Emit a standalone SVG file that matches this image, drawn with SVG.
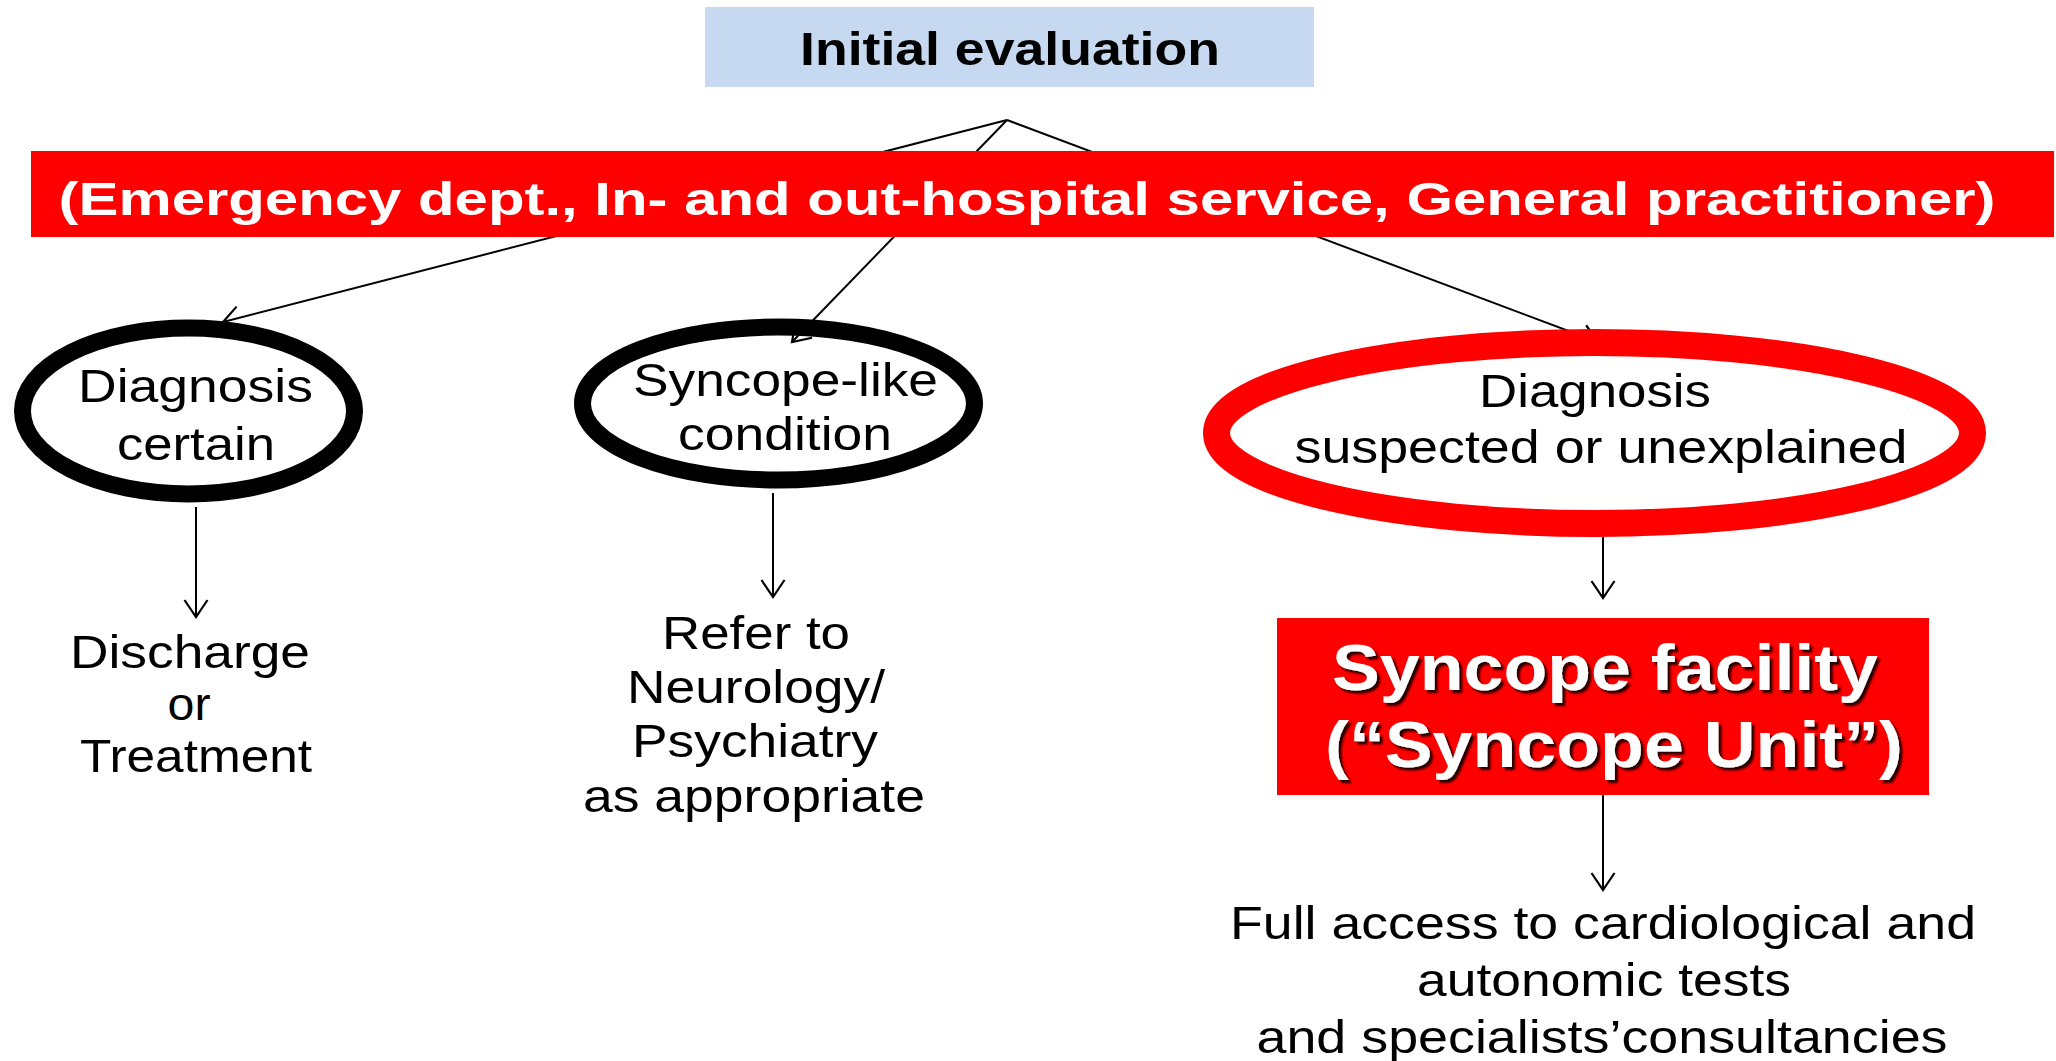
<svg xmlns="http://www.w3.org/2000/svg" width="2056" height="1061" viewBox="0 0 2056 1061">
  <defs>
    <marker id="arrow" markerUnits="userSpaceOnUse" markerWidth="40" markerHeight="40" viewBox="-20 -20 40 40" refX="0" refY="0" orient="auto">
      <path d="M -17 -11.5 L 0 0 L -17 11.5" fill="none" stroke="#000" stroke-width="2.2" stroke-linejoin="miter"/>
    </marker>
    <filter id="shadow" x="-10%" y="-20%" width="120%" height="150%">
      <feDropShadow dx="3" dy="3" stdDeviation="1.2" flood-color="#000" flood-opacity="0.85"/>
    </filter>
  </defs>
  <style>
    text { font-family: "Liberation Sans", Arial, sans-serif; text-anchor: middle; }
    .t { font-size: 46px; fill: #000; }
    .b { font-weight: bold; }
    .w { fill: #fff; font-weight: bold; }
    .conn { stroke: #000; stroke-width: 2; fill: none; marker-end: url(#arrow); }
    .ring { fill: none; stroke: #000; stroke-width: 17; }
    .redring { fill: none; stroke: #ff0000; stroke-width: 27; }
    .redbox { fill: #ff0000; }
  </style>
  <rect width="2056" height="1061" fill="#fff"/>

  <g id="connectors">
    <line class="conn" x1="1007" y1="120" x2="223" y2="322"/>
    <line class="conn" x1="1007" y1="120" x2="792" y2="342"/>
    <line class="conn" x1="1007" y1="120" x2="1598" y2="342"/>
    <line class="conn" x1="196" y1="507" x2="196" y2="617"/>
    <line class="conn" x1="773" y1="493" x2="773" y2="597"/>
    <line class="conn" x1="1603" y1="537" x2="1603" y2="598"/>
    <line class="conn" x1="1603" y1="795" x2="1603" y2="890"/>
  </g>

  <g id="initial-evaluation">
    <rect x="705" y="7" width="609" height="80" fill="#c6d9f0"/>
    <text class="t b" x="1010" y="65" textLength="420" lengthAdjust="spacingAndGlyphs">Initial evaluation</text>
  </g>

  <g id="settings-banner">
    <rect class="redbox" x="31" y="151" width="2023" height="86"/>
    <text class="t w" x="1027" y="215" textLength="1937" lengthAdjust="spacingAndGlyphs">(Emergency dept., In- and out-hospital service, General practitioner)</text>
  </g>

  <g id="diagnosis-certain">
    <ellipse class="ring" cx="188.5" cy="411" rx="166" ry="83"/>
    <text class="t" x="195.5" y="402" textLength="235" lengthAdjust="spacingAndGlyphs">Diagnosis</text>
    <text class="t" x="196" y="460" textLength="158" lengthAdjust="spacingAndGlyphs">certain</text>
  </g>

  <g id="syncope-like">
    <ellipse class="ring" cx="778.5" cy="403.5" rx="196" ry="76.5" stroke-width="16"/>
    <text class="t" x="785.5" y="396" textLength="305" lengthAdjust="spacingAndGlyphs">Syncope-like</text>
    <text class="t" x="785" y="450" textLength="214" lengthAdjust="spacingAndGlyphs">condition</text>
  </g>

  <g id="diagnosis-suspected">
    <ellipse class="redring" cx="1594.5" cy="433" rx="378" ry="90.5"/>
    <text class="t" x="1595" y="407" textLength="232" lengthAdjust="spacingAndGlyphs">Diagnosis</text>
    <text class="t" x="1601" y="463" textLength="613" lengthAdjust="spacingAndGlyphs">suspected or unexplained</text>
  </g>

  <g id="discharge">
    <text class="t" x="190" y="668" textLength="240" lengthAdjust="spacingAndGlyphs">Discharge</text>
    <text class="t" x="189" y="720" textLength="43" lengthAdjust="spacingAndGlyphs">or</text>
    <text class="t" x="196" y="772" textLength="232" lengthAdjust="spacingAndGlyphs">Treatment</text>
  </g>

  <g id="refer">
    <text class="t" x="756" y="649" textLength="188" lengthAdjust="spacingAndGlyphs">Refer to</text>
    <text class="t" x="756" y="703" textLength="258" lengthAdjust="spacingAndGlyphs">Neurology/</text>
    <text class="t" x="755" y="757" textLength="246" lengthAdjust="spacingAndGlyphs">Psychiatry</text>
    <text class="t" x="754" y="812" textLength="342" lengthAdjust="spacingAndGlyphs">as appropriate</text>
  </g>

  <g id="syncope-unit">
    <rect class="redbox" x="1277" y="618" width="652" height="177"/>
    <g filter="url(#shadow)">
      <text class="w" x="1605" y="690" font-size="65" textLength="546" lengthAdjust="spacingAndGlyphs">Syncope facility</text>
      <text class="w" x="1614" y="767" font-size="65" textLength="578" lengthAdjust="spacingAndGlyphs">(“Syncope Unit”)</text>
    </g>
  </g>

  <g id="full-access">
    <text class="t" x="1603" y="939" font-size="41" textLength="746" lengthAdjust="spacingAndGlyphs">Full access to cardiological and</text>
    <text class="t" x="1604" y="996" font-size="41" textLength="374" lengthAdjust="spacingAndGlyphs">autonomic tests</text>
    <text class="t" x="1602" y="1053" font-size="41" textLength="691" lengthAdjust="spacingAndGlyphs">and specialists’consultancies</text>
  </g>
</svg>
